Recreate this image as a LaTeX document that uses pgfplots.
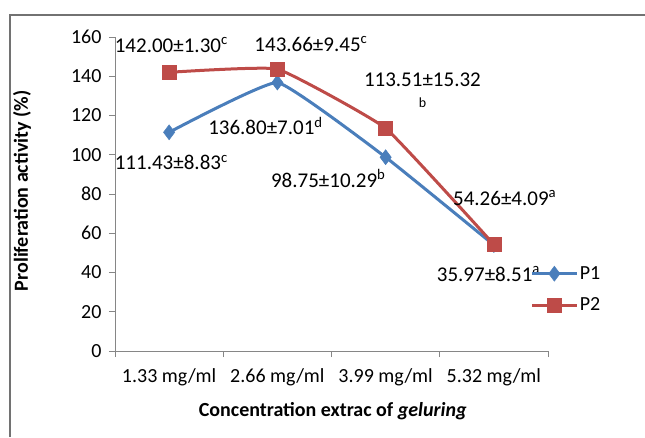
\documentclass[border=0pt]{standalone}
\usepackage{fontspec}
\setmainfont{Carlito}
\usepackage{pgfplots}
\pgfplotsset{compat=1.18}
\definecolor{pblue}{HTML}{4A7EBB}
\definecolor{pred}{HTML}{BE4B48}
\definecolor{axgray}{HTML}{868686}
\begin{document}
\begin{tikzpicture}
\useasboundingbox (0,0) rectangle (645pt,437pt);
\draw[color=axgray!85!black, line width=2.6pt] (10pt,0pt) -- (10pt,422pt) -- (645pt,422pt);
\begin{axis}[
  at={(115pt,86pt)}, anchor=south west,
  scale only axis, width=433pt, height=314pt,
  xmin=-0.5, xmax=3.5, ymin=0, ymax=160,
  axis lines*=left,
  axis line style={draw=axgray, line width=0.8pt},
  xtick={0,1,2,3},
  xticklabels={1.33 mg/ml,2.66 mg/ml,3.99 mg/ml,5.32 mg/ml},
  minor xtick={-0.5,0.5,1.5,2.5,3.5},
  ytick={0,20,...,160},
  tick align=outside,
  major x tick style={draw=none},
  minor tick length=6pt, major tick length=6pt,
  every tick/.style={draw=axgray, line width=0.8pt},
  minor x tick style={draw=axgray, line width=0.8pt},
  ytick style={draw=axgray, line width=0.8pt},
  /pgf/number format/assume math mode=true,
  tick label style={font=\fontsize{20}{22}\selectfont, text=black},
  yticklabel style={xshift=-4pt},
  xticklabel style={yshift=-8pt},
  xlabel={\textbf{Concentration extrac of \textit{geluring}}},
  ylabel={\textbf{Proliferation activity (\%)}},
  every axis x label/.style={at={(axis description cs:0.503,-0.191)}, anchor=center, font=\fontsize{20}{22}\selectfont},
  every axis y label/.style={at={(axis description cs:-0.215,0.51)}, anchor=center, rotate=90, font=\fontsize{20}{22}\selectfont},
  legend style={at={(axis description cs:0.96,0.196)}, anchor=west, draw=none, fill=none,
    font=\fontsize{20}{22}\selectfont, row sep=13pt, inner sep=0pt,
    /tikz/every even column/.append style={column sep=2pt}},
  legend cell align=left,
  legend image code/.code={\draw[mark repeat=2,mark phase=2,#1] plot coordinates {(0pt,0pt) (22pt,0pt) (44pt,0pt)};},
  clip=false,
]
\addplot[color=pblue, line width=3pt, smooth, tension=0.2, mark=diamond*, mark size=7.5pt, mark options={fill=pblue, line width=0.5pt}]
  coordinates {(0,111.43) (1,136.80) (2,98.75) (3,54.0)};
\addlegendentry{P1}
\addplot[color=pred, line width=3pt, smooth, tension=0.2, mark=square*, mark size=7pt, mark options={fill=pred, line width=0.5pt}]
  coordinates {(0,142.00) (1,143.66) (2,113.51) (3,54.26)};
\addlegendentry{P2}
\begin{scope}[every node/.style={font=\fontsize{21}{23}\selectfont, inner sep=0pt}]
\node at (axis cs:0.02,156.0) {142.00±1.30\textsuperscript{c}};
\node at (axis cs:1.31,156.4) {143.66±9.45\textsuperscript{c}};
\node at (axis cs:2.34,138.4) {113.51±15.32};
\node[font=\fontsize{14}{15}\selectfont] at (axis cs:2.34,126.5) {b};
\node at (axis cs:3.10,77.9) {54.26±4.09\textsuperscript{a}};
\node at (axis cs:0.02,96.1) {111.43±8.83\textsuperscript{c}};
\node at (axis cs:0.89,114.7) {136.80±7.01\textsuperscript{d}};
\node at (axis cs:1.47,87.9) {98.75±10.29\textsuperscript{b}};
\node at (axis cs:2.95,39.2) {35.97±8.51\textsuperscript{a}};
\end{scope}
\end{axis}
\end{tikzpicture}
\end{document}
